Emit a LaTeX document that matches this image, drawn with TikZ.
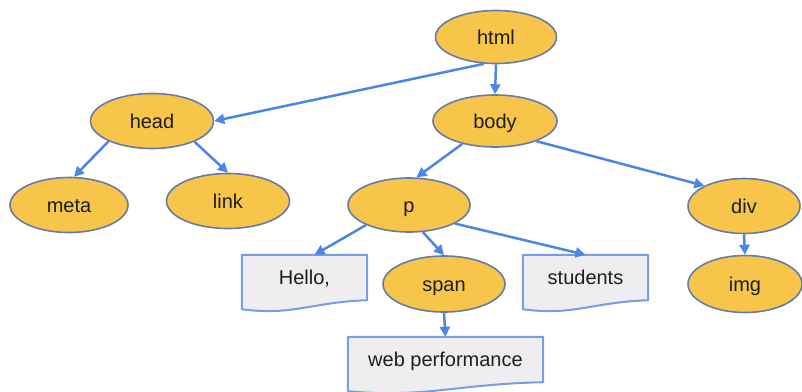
\documentclass[tikz,border=0pt]{standalone}
\usepackage{fontspec}
\setmainfont{Liberation Sans}
\usetikzlibrary{shapes.geometric,arrows.meta,calc,backgrounds}
\definecolor{nodefill}{RGB}{246,197,74}
\definecolor{nodeline}{RGB}{105,122,168}
\definecolor{edgeblue}{RGB}{74,134,232}
\definecolor{docline}{RGB}{118,158,232}
\definecolor{docfill}{RGB}{238,238,241}
\definecolor{txt}{RGB}{30,30,30}

% frame of a text leaf: flat top, wavy bottom edge
\newcommand\docframe[1]{%
  \path[docshape] (#1.north west) -- (#1.north east) -- (#1.south east)
    .. controls ($(#1.south east)!0.45!(#1.south west)+(0,2)$)
       and ($(#1.south west)!0.4!(#1.south east)+(0,16)$)
    .. ($(#1.south west)+(0,9)$) -- cycle;}

\begin{document}
\begin{tikzpicture}[x=1pt,y=-1pt,
  font=\fontsize{20}{22}\selectfont, text=txt,
  elem/.style={ellipse, draw=nodeline, line width=1.6pt, fill=nodefill,
    inner sep=0pt, text height=14pt, text depth=0pt},
  textleaf/.style={rectangle, inner sep=0pt, minimum height=45pt,
    text height=14pt, text depth=0pt},
  conn/.style={draw=edgeblue, line width=2.5pt,
    -{Triangle[length=10pt,width=10pt]}},
  docshape/.style={draw=docline, line width=2pt, fill=docfill, line join=round}]
\useasboundingbox (0,0) rectangle (802,391);

% element nodes
\node[elem, minimum width=121pt, minimum height=53pt] (html) at (496,37) {html};
\node[elem, minimum width=123pt, minimum height=55pt] (head) at (152,121) {head};
\node[elem, minimum width=124pt, minimum height=52pt] (body) at (495,121) {body};
\node[elem, minimum width=118pt, minimum height=55pt] (meta) at (69,205) {meta};
\node[elem, minimum width=123pt, minimum height=55pt] (link) at (228,201) {link};
\node[elem, minimum width=122pt, minimum height=54pt] (p) at (409,205) {p};
\node[elem, minimum width=112pt, minimum height=55pt] (div) at (744,206) {div};
\node[elem, minimum width=122pt, minimum height=56pt] (span) at (444,284) {span};
\node[elem, minimum width=114pt, minimum height=57pt] (img) at (745,284) {img};

% text leaves
\node[textleaf, minimum width=125pt] (hello) at (304.5,277.5) {Hello,};
\node[textleaf, minimum width=125pt] (students) at (585.5,277.5) {students};
\node[textleaf, minimum width=195pt] (web) at (445.5,359.5) {web performance};

\begin{scope}[on background layer]
  \docframe{hello}
  \docframe{students}
  \docframe{web}
\end{scope}

% tree connectors
\draw[conn] (html.246) -- (head.east);
\draw[conn] (html.south) -- (body.north);
\draw[conn] (head.205) -- (meta.80);
\draw[conn] (head.334) -- (link.north);
\draw[conn] (body.215) -- (p.75);
\draw[conn] (body.334) -- (div.153);
\draw[conn] (p.205) -- ([xshift=10pt]hello.north);
\draw[conn] (p.297) -- (span.north);
\draw[conn] (p.338) -- (students.north);
\draw[conn] (div.south) -- (img.north);
\draw[conn] (span.south) -- (web.north);
\end{tikzpicture}
\end{document}
